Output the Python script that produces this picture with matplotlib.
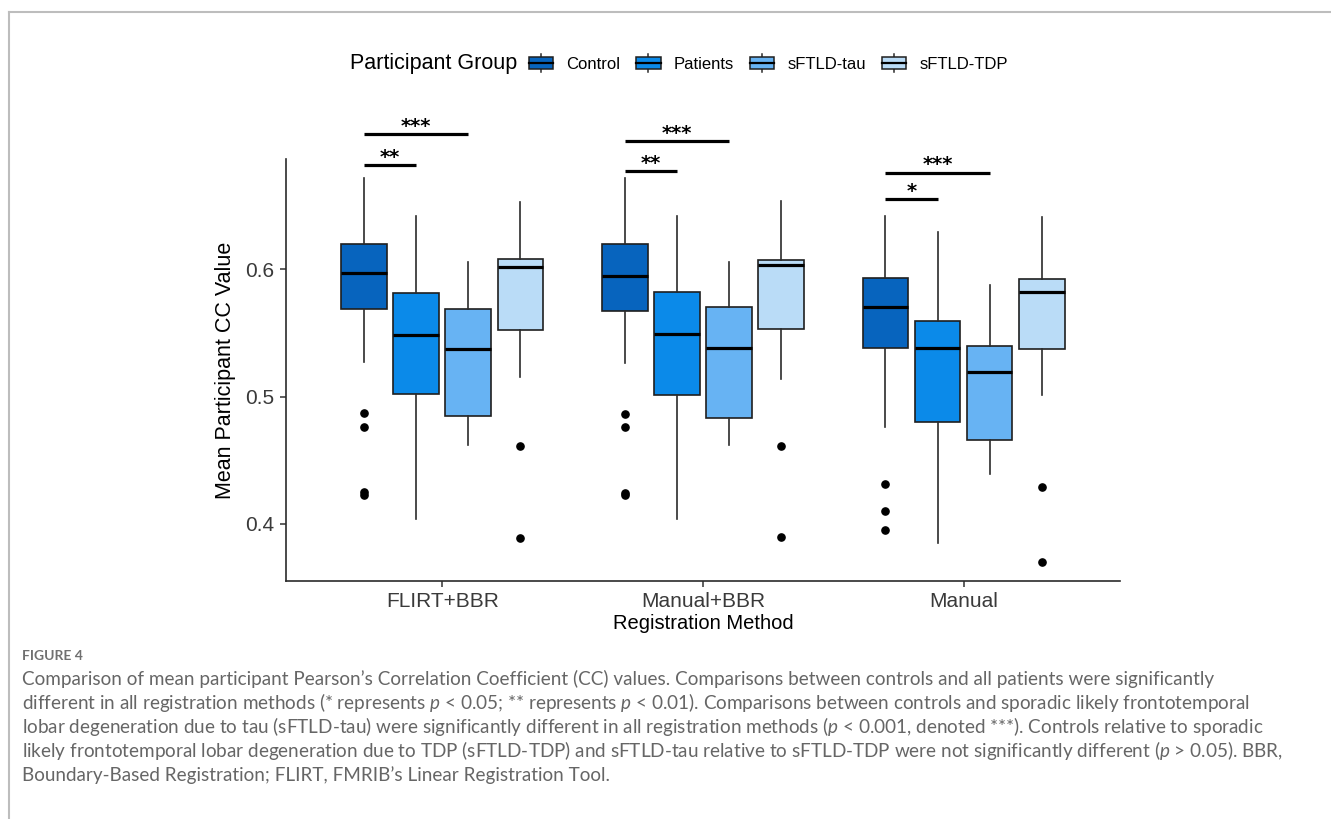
import matplotlib
matplotlib.use('Agg')
import matplotlib.pyplot as plt
from matplotlib.lines import Line2D
from matplotlib.patches import Rectangle, Patch
from matplotlib.legend_handler import HandlerBase

# data
methods = ['FLIRT+BBR', 'Manual+BBR', 'Manual']
groups = ['Control', 'Patients', 'sFTLD-tau', 'sFTLD-TDP']
colors = ['#0764BE', '#0B8AE9', '#67B3F3', '#BADCF7']

# whislo, q1, median, q3, whishi  (one row per method)
control_stats = [[0.527, 0.569, 0.597, 0.620, 0.672],
                 [0.526, 0.567, 0.595, 0.620, 0.672],
                 [0.476, 0.538, 0.570, 0.593, 0.642]]
patients_stats = [[0.404, 0.502, 0.548, 0.581, 0.642],
                  [0.404, 0.501, 0.549, 0.582, 0.642],
                  [0.385, 0.480, 0.538, 0.559, 0.629]]
tau_stats = [[0.462, 0.485, 0.537, 0.569, 0.606],
             [0.462, 0.483, 0.538, 0.570, 0.606],
             [0.439, 0.466, 0.519, 0.540, 0.588]]
tdp_stats = [[0.515, 0.552, 0.602, 0.608, 0.653],
             [0.514, 0.553, 0.603, 0.607, 0.654],
             [0.501, 0.537, 0.582, 0.592, 0.641]]

control_fliers = [[0.487, 0.476, 0.425, 0.423],
                  [0.486, 0.476, 0.424, 0.423],
                  [0.431, 0.410, 0.395]]
patients_fliers = [[], [], []]
tau_fliers = [[], [], []]
tdp_fliers = [[0.461, 0.389], [0.461, 0.390], [0.429, 0.370]]

# significance brackets: method index, compared group index, height, label
sig_method = [0, 0, 1, 1, 2, 2]
sig_target = [1, 2, 1, 2, 1, 2]
sig_height = [0.682, 0.706, 0.677, 0.701, 0.6555, 0.676]
sig_label = ['**', '***', '**', '***', '*', '***']

caption_lines = [
    'Comparison of mean participant Pearson\u2019s Correlation Coefficient (CC) values. Comparisons between controls and all patients were significantly',
    'different in all registration methods (* represents $p$ < 0.05; ** represents $p$ < 0.01). Comparisons between controls and sporadic likely frontotemporal',
    'lobar degeneration due to tau (sFTLD-tau) were significantly different in all registration methods ($p$ < 0.001, denoted ***). Controls relative to sporadic',
    'likely frontotemporal lobar degeneration due to TDP (sFTLD-TDP) and sFTLD-tau relative to sFTLD-TDP were not significantly different ($p$ > 0.05). BBR,',
    'Boundary-Based Registration; FLIRT, FMRIB\u2019s Linear Registration Tool.',
]

plt.rcParams['font.family'] = ['Liberation Sans', 'DejaVu Sans']
plt.rcParams['mathtext.fontset'] = 'custom'
plt.rcParams['mathtext.it'] = 'Lato:italic'
plt.rcParams['mathtext.rm'] = 'Lato'

all_stats = [control_stats, patients_stats, tau_stats, tdp_stats]
all_fliers = [control_fliers, patients_fliers, tau_fliers, tdp_fliers]
offsets = [-0.3, -0.1, 0.1, 0.3]

fig = plt.figure(figsize=(13.31, 8.19), dpi=100)
ax = fig.add_axes([0.2147, 0.2906, 0.8415 - 0.2147, 0.8055 - 0.2906])

for g in range(len(groups)):
    stats = []
    for m in range(len(methods)):
        lo, q1, med, q3, hi = all_stats[g][m]
        stats.append(dict(whislo=lo, q1=q1, med=med, q3=q3, whishi=hi,
                          fliers=all_fliers[g][m]))
    pos = [m + 1 + offsets[g] for m in range(len(methods))]
    ax.bxp(stats, positions=pos, widths=0.175, patch_artist=True, showcaps=False,
           boxprops=dict(facecolor=colors[g], edgecolor='#1f1f1f', linewidth=1.2),
           medianprops=dict(color='black', linewidth=2.3),
           whiskerprops=dict(color='#2b2b2b', linewidth=1.2),
           flierprops=dict(marker='o', markerfacecolor='black', markeredgecolor='black',
                           markersize=5.2))

for m, t, h, lab in zip(sig_method, sig_target, sig_height, sig_label):
    x0 = m + 1 + offsets[0]
    x1 = m + 1 + offsets[t]
    ax.plot([x0, x1], [h, h], color='black', lw=2.3, clip_on=False, solid_capstyle='butt')
    ax.annotate(lab, ((x0 + x1) / 2, h), xytext=(0, 1.5), textcoords='offset points',
                ha='center', va='baseline', fontsize=14, fontweight='bold',
                family='DejaVu Sans', annotation_clip=False)

ax.set_xlim(0.4, 3.6)
ax.set_ylim(0.3551, 0.6864)
ax.set_xticks([1, 2, 3])
ax.set_xticklabels(methods)
ax.set_yticks([0.4, 0.5, 0.6])
ax.set_yticklabels(['0.4', '0.5', '0.6'])
ax.tick_params(axis='both', length=4, width=1.1, color='#333333', labelsize=15,
               labelcolor='#3a3a3a', pad=4)
for s in ['top', 'right']:
    ax.spines[s].set_visible(False)
for s in ['left', 'bottom']:
    ax.spines[s].set_linewidth(1.2)
    ax.spines[s].set_color('#2b2b2b')
ax.set_xlabel('Registration Method', fontsize=14.5, labelpad=2)
ax.set_ylabel('Mean Participant CC Value', fontsize=15.5, labelpad=7)


class BoxKey(HandlerBase):
    def create_artists(self, legend, orig_handle, xdescent, ydescent,
                       width, height, fontsize, trans):
        x0, y0 = -xdescent, -ydescent
        cx = x0 + width / 2
        whisk = Line2D([cx, cx], [y0, y0 + height], color='#2b2b2b', lw=1.1, transform=trans)
        box = Rectangle((x0, y0 + height * 0.17), width, height * 0.66,
                        facecolor=orig_handle.get_facecolor(), edgecolor='#1f1f1f',
                        lw=1.1, transform=trans)
        med = Line2D([x0, x0 + width], [y0 + height / 2] * 2, color='black',
                     lw=1.6, transform=trans)
        return [whisk, box, med]


handles = [Patch(facecolor=c) for c in colors]
legend_y = 1 - 63 / 819
fig.text(350 / 1331, legend_y, 'Participant Group', fontsize=15.5, va='center', ha='left')
fig.legend(handles, groups, loc='center left', bbox_to_anchor=(529 / 1331, legend_y),
           ncol=4, frameon=False, borderpad=0, borderaxespad=0,
           handlelength=1.45, handleheight=1.35, handletextpad=0.8, columnspacing=0.95,
           fontsize=12, handler_map={Patch: BoxKey()})

# frame around the figure panel
fig.add_artist(Line2D([9 / 1331, 9 / 1331], [0, 1 - 12 / 819], color='#bdbdbd', lw=1.5,
                      transform=fig.transFigure))
fig.add_artist(Line2D([9 / 1331, 1], [1 - 12 / 819, 1 - 12 / 819], color='#bdbdbd', lw=1.5,
                      transform=fig.transFigure))

# caption
fig.text(22 / 1331, 1 - 656 / 819, 'FIGURE 4', fontsize=10, color='#707070',
         family='Lato', fontweight='bold', va='center')
for i, line in enumerate(caption_lines):
    fig.text(22 / 1331, 1 - (679 + 24 * i) / 819, line, fontsize=13.6, color='#666666',
             family='Lato', va='center')

fig.savefig('out.png', dpi=100)
